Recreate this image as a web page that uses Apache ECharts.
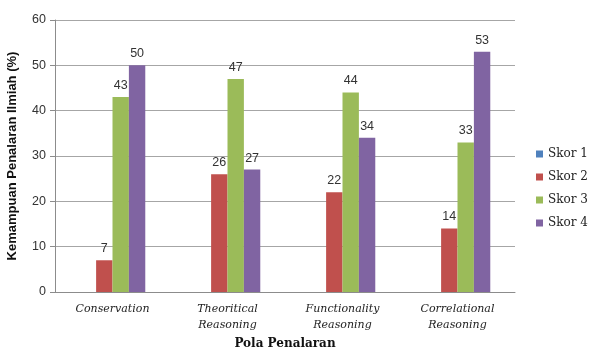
<!DOCTYPE html>
<html>
<head>
<meta charset="utf-8">
<script src="https://cdn.jsdelivr.net/npm/echarts@6/dist/echarts.min.js"></script>
<style>
  html, body { margin: 0; padding: 0; background: #fff; }
  #chart { width: 591px; height: 350px; }
</style>
</head>
<body>
<div id="chart"></div>
<script>
// Reasoning patterns and the share of students at each score level (%)
const categories = ['Conservation', 'Theoritical\nReasoning', 'Functionality\nReasoning', 'Correlational\nReasoning'];
const skor1 = [0, 0, 0, 0];
const skor2 = [7, 26, 22, 14];
const skor3 = [43, 47, 44, 33];
const skor4 = [50, 27, 34, 53];
const seriesNames = ['Skor 1', 'Skor 2', 'Skor 3', 'Skor 4'];
const yTicks = [0, 10, 20, 30, 40, 50, 60];

const colors = ['#4F81BD', '#C0504D', '#9BBB59', '#8064A2'];
const sans = '"Liberation Sans", Arial, sans-serif';
const serif = '"DejaVu Serif", "Liberation Serif", serif';

const chart = echarts.init(document.getElementById('chart'));

function barSeries(name, data, showLabel) {
  return {
    name: name,
    type: 'bar',
    data: data,
    barGap: '0%',
    barCategoryGap: '43%',
    label: {
      show: showLabel,
      position: 'top',
      distance: 5,
      color: '#333',
      fontFamily: sans,
      fontSize: 12.5
    }
  };
}

chart.setOption({
  animation: false,
  color: colors,
  grid: {
    left: 55, right: 76, top: 20, bottom: 58,
    containLabel: false,
    outerBoundsMode: 'none'
  },
  legend: {
    orient: 'vertical',
    left: 531,
    top: 143,
    itemWidth: 7,
    itemHeight: 7,
    itemGap: 11,
    icon: 'rect',
    textStyle: { fontFamily: serif, fontSize: 12, color: '#222' },
    data: seriesNames
  },
  xAxis: {
    type: 'category',
    data: categories,
    name: 'Pola Penalaran',
    nameLocation: 'middle',
    nameGap: 46,
    nameTextStyle: { fontFamily: serif, fontWeight: 'bold', fontSize: 12, color: '#111' },
    axisLine: { lineStyle: { color: '#8c8c8c', width: 1 } },
    axisTick: { show: false },
    axisLabel: {
      fontFamily: serif, fontStyle: 'italic', fontSize: 11, color: '#222',
      margin: 9, lineHeight: 16, interval: 0
    }
  },
  yAxis: {
    type: 'value',
    min: yTicks[0],
    max: yTicks[yTicks.length - 1],
    interval: 10,
    name: 'Kemampuan Penalaran Ilmiah (%)',
    nameLocation: 'middle',
    nameGap: 36,
    nameTextStyle: { fontFamily: sans, fontWeight: 'bold', fontSize: 13, color: '#111' },
    axisLine: { show: true, lineStyle: { color: '#8c8c8c', width: 1 } },
    axisTick: { show: true, length: 5, lineStyle: { color: '#8c8c8c' } },
    axisLabel: { fontFamily: sans, fontSize: 12.5, color: '#333', margin: 9 },
    splitLine: { lineStyle: { color: '#a6a6a6', width: 1 } }
  },
  series: [
    barSeries(seriesNames[0], skor1, false),
    barSeries(seriesNames[1], skor2, true),
    barSeries(seriesNames[2], skor3, true),
    barSeries(seriesNames[3], skor4, true)
  ]
});
</script>
</body>
</html>
